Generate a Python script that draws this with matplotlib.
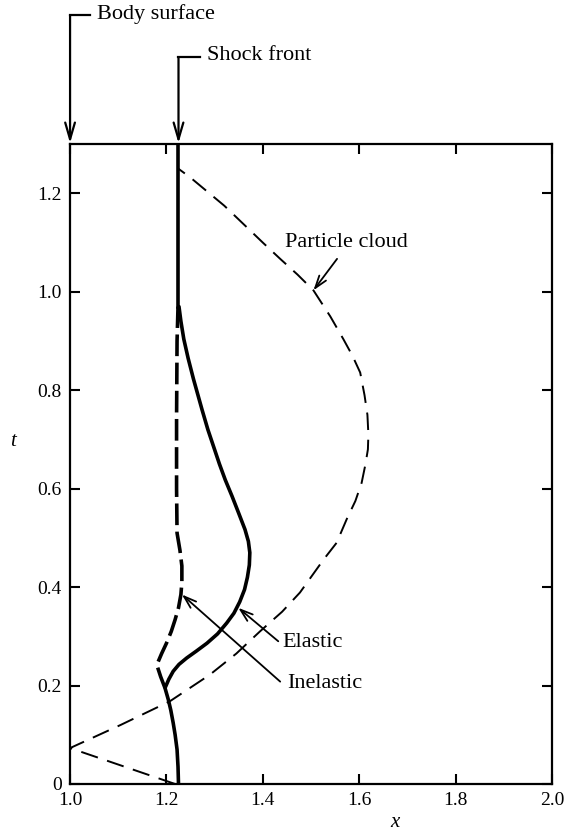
import numpy as np
import matplotlib.pyplot as plt
from matplotlib.ticker import FuncFormatter, MultipleLocator

plt.rcParams['font.family'] = ['Liberation Serif', 'DejaVu Serif']

# particle cloud boundary (x, t)
cloud_x = [1.218, 1.0, 1.105, 1.207, 1.29, 1.345, 1.394, 1.44, 1.477, 1.526,
           1.553, 1.574, 1.592, 1.605, 1.613, 1.618, 1.619, 1.617, 1.611, 1.602,
           1.586, 1.567, 1.54, 1.505, 1.472, 1.436, 1.40, 1.367, 1.32, 1.277,
           1.25, 1.225]
cloud_t = [0.0, 0.073, 0.12, 0.168, 0.222, 0.265, 0.31, 0.35, 0.389, 0.456,
           0.49, 0.538, 0.575, 0.612, 0.65, 0.68, 0.71, 0.75, 0.79, 0.836,
           0.87, 0.904, 0.95, 1.003, 1.035, 1.067, 1.10, 1.131, 1.175, 1.21,
           1.232, 1.25]

# elastic collisions (solid)
el_x = [1.225, 1.224, 1.222, 1.218, 1.214, 1.209, 1.204, 1.197, 1.205, 1.214,
        1.226, 1.242, 1.262, 1.284, 1.306, 1.325, 1.34, 1.352, 1.362, 1.368,
        1.372, 1.373, 1.37, 1.363, 1.35, 1.336, 1.322, 1.31, 1.298, 1.286,
        1.274, 1.256, 1.245, 1.236, 1.23, 1.226]
el_t = [0.0, 0.035, 0.07, 0.10, 0.124, 0.15, 0.171, 0.195, 0.213, 0.229,
        0.243, 0.256, 0.27, 0.286, 0.305, 0.327, 0.347, 0.37, 0.395, 0.42,
        0.445, 0.47, 0.493, 0.517, 0.55, 0.585, 0.618, 0.65, 0.685, 0.72,
        0.76, 0.823, 0.865, 0.904, 0.94, 0.97]

# inelastic collisions (dashed)
inel_x = [1.197, 1.188, 1.180, 1.19, 1.200, 1.21, 1.218, 1.225, 1.23, 1.232,
          1.232, 1.228, 1.222, 1.221, 1.221, 1.222, 1.224]
inel_t = [0.195, 0.218, 0.242, 0.265, 0.286, 0.31, 0.334, 0.358, 0.385, 0.41,
          0.443, 0.475, 0.51, 0.6, 0.741, 0.90, 0.97]

# shock front after merge
shock_x = [1.225, 1.225]
shock_t = [0.97, 1.30]

fig = plt.figure(figsize=(5.65, 8.32), dpi=100)
ax = fig.add_axes([0.124, 0.0577, 0.853, 0.769])

ax.plot(cloud_x, cloud_t, color='black', lw=1.4, dashes=(9, 5))
ax.plot(el_x, el_t, color='black', lw=2.6, solid_capstyle='round',
        solid_joinstyle='round')
ax.plot(inel_x, inel_t, color='black', lw=2.6, dashes=(6, 1.8))
ax.plot(shock_x, shock_t, color='black', lw=2.6)

ax.set_xlim(1.0, 2.0)
ax.set_ylim(0, 1.30)
ax.xaxis.set_major_locator(MultipleLocator(0.2))
ax.yaxis.set_major_locator(MultipleLocator(0.2))
ax.xaxis.set_major_formatter(FuncFormatter(lambda v, p: '%.1f' % v))
ax.yaxis.set_major_formatter(FuncFormatter(lambda v, p: '0' if abs(v) < 1e-9 else '%.1f' % v))
ax.tick_params(direction='in', length=7, width=1.5, labelsize=14,
               top=True, right=True, pad=6)
for s in ax.spines.values():
    s.set_linewidth(1.6)

ax.set_xlabel('x', fontsize=15, style='italic')
ax.xaxis.set_label_coords(0.674, -0.046)
ax.set_ylabel('t', fontsize=15, style='italic', rotation=0)
ax.yaxis.set_label_coords(-0.118, 0.52)

arr = dict(arrowstyle='->, head_length=0.9, head_width=0.3', color='black',
           lw=1.3, shrinkA=0, shrinkB=0)
big = dict(arrowstyle='->, head_length=1.2, head_width=0.35', color='black',
           lw=1.6, shrinkA=0, shrinkB=0)

# body surface hook
ax.plot([1.0, 1.042], [1.562, 1.562], color='black', lw=1.6, clip_on=False)
ax.annotate('', xy=(1.0, 1.302), xytext=(1.0, 1.562), arrowprops=big,
            annotation_clip=False)
ax.text(1.056, 1.565, 'Body surface', fontsize=16, va='center', ha='left')

# shock front hook
ax.plot([1.225, 1.27], [1.477, 1.477], color='black', lw=1.6, clip_on=False)
ax.annotate('', xy=(1.225, 1.302), xytext=(1.225, 1.477), arrowprops=big,
            annotation_clip=False)
ax.text(1.284, 1.48, 'Shock front', fontsize=16, va='center', ha='left')

ax.annotate('', xy=(1.505, 1.003), xytext=(1.554, 1.067), arrowprops=arr)
ax.text(1.447, 1.10, 'Particle cloud', fontsize=16, va='center', ha='left')

ax.annotate('', xy=(1.349, 0.358), xytext=(1.432, 0.290), arrowprops=arr)
ax.text(1.44, 0.288, 'Elastic', fontsize=16, va='center', ha='left')

ax.annotate('', xy=(1.232, 0.385), xytext=(1.436, 0.208), arrowprops=arr)
ax.text(1.45, 0.205, 'Inelastic', fontsize=16, va='center', ha='left')

fig.savefig('out.png', dpi=100)
